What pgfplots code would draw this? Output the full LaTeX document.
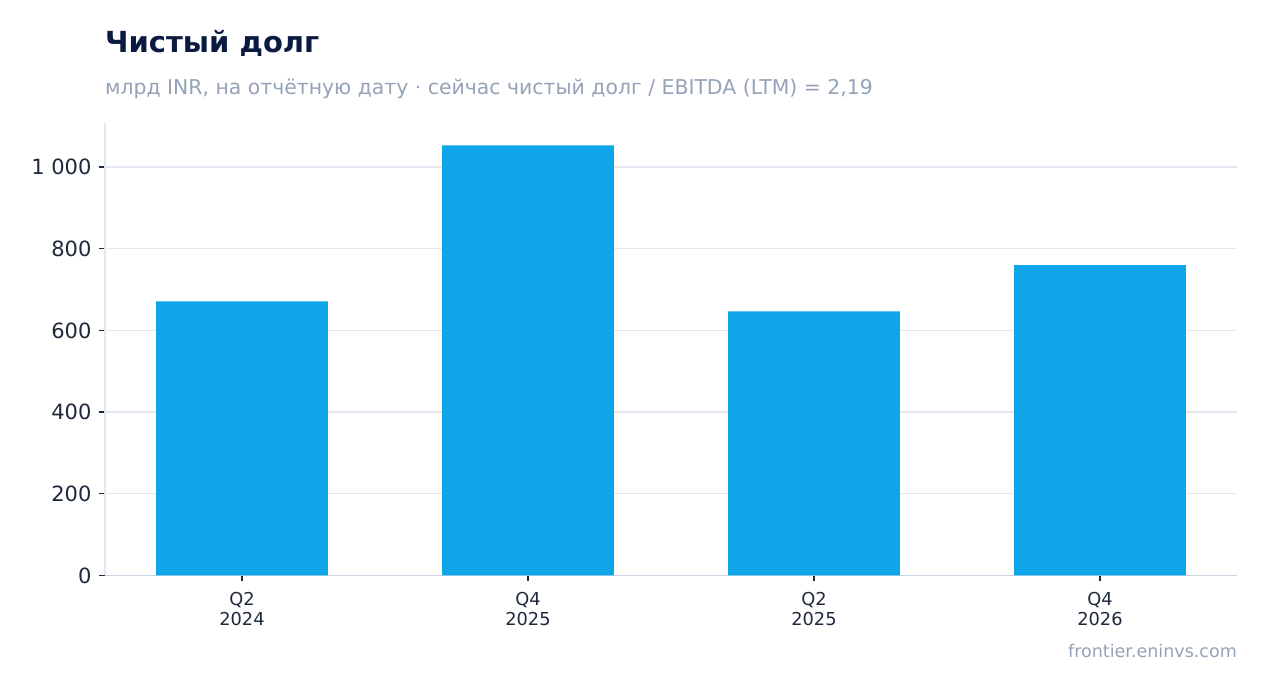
\documentclass[border=0pt]{standalone}
\usepackage{pgfplots}
\pgfplotsset{compat=1.18}
\usepackage{fontspec}
\setmainfont{DejaVu Sans}
\definecolor{barblue}{HTML}{0EA5E9}
\definecolor{titlecol}{HTML}{0A1A40}
\definecolor{subcol}{HTML}{94A3B8}
\definecolor{gridcol}{HTML}{E2E8F0}
\definecolor{basecol}{HTML}{CBD5E1}
\definecolor{tickcol}{HTML}{1E293B}
\pgfplotstableread{
x y
0 671
1 1053
2 647
3 760
}\debt
\begin{document}
\begin{tikzpicture}[x=1pt,y=1pt]
\path[use as bounding box,fill=white] (0,0) rectangle (1267,693);
\node[anchor=base west,text=titlecol,font=\fontsize{29}{34}\selectfont\bfseries,inner sep=0pt] at (105,693-53) {Чистый долг};
\node[anchor=base west,text=subcol,font=\fontsize{20.4}{24}\selectfont,inner sep=0pt] at (105,693-95) {млрд INR, на отчётную дату · сейчас чистый долг / EBITDA (LTM) = 2,19};
\node[anchor=base east,text=subcol,font=\fontsize{17.5}{20}\selectfont,inner sep=0pt] at (1237,693-658) {frontier.eninvs.com};
\begin{axis}[
  at={(105pt,117.5pt)}, anchor=south west,
  scale only axis, width=1132pt, height=452.5pt,
  xmin=-0.479, xmax=3.479, ymin=0, ymax=1108,
  axis x line*=bottom, axis y line*=left,
  x axis line style={color=basecol,line width=1.2pt,-},
  y axis line style={color=gridcol,line width=1.2pt,-},
  ymajorgrids, grid style={color=gridcol,line width=1.3pt},
  tick align=outside, major tick length=6pt,
  tick style={color=tickcol,line width=1.3pt},
  xtick={0,1,2,3},
  xticklabels={Q2\\2024,Q4\\2025,Q2\\2025,Q4\\2026},
  xticklabel style={align=center,font=\fontsize{17.8}{20.5}\selectfont,text=tickcol,yshift=-7pt},
  ytick={0,200,400,600,800,1000},
  yticklabels={0,200,400,600,800,1\ 000},
  yticklabel style={font=\fontsize{21}{24}\selectfont,text=tickcol,xshift=-4pt},
  /pgf/number format/assume math mode=true,
  clip=false,
]
\addplot[ybar, bar width=0.6, bar shift=0pt, fill=barblue, draw=none] table[x=x,y=y] {\debt};
\end{axis}
\end{tikzpicture}
\end{document}
